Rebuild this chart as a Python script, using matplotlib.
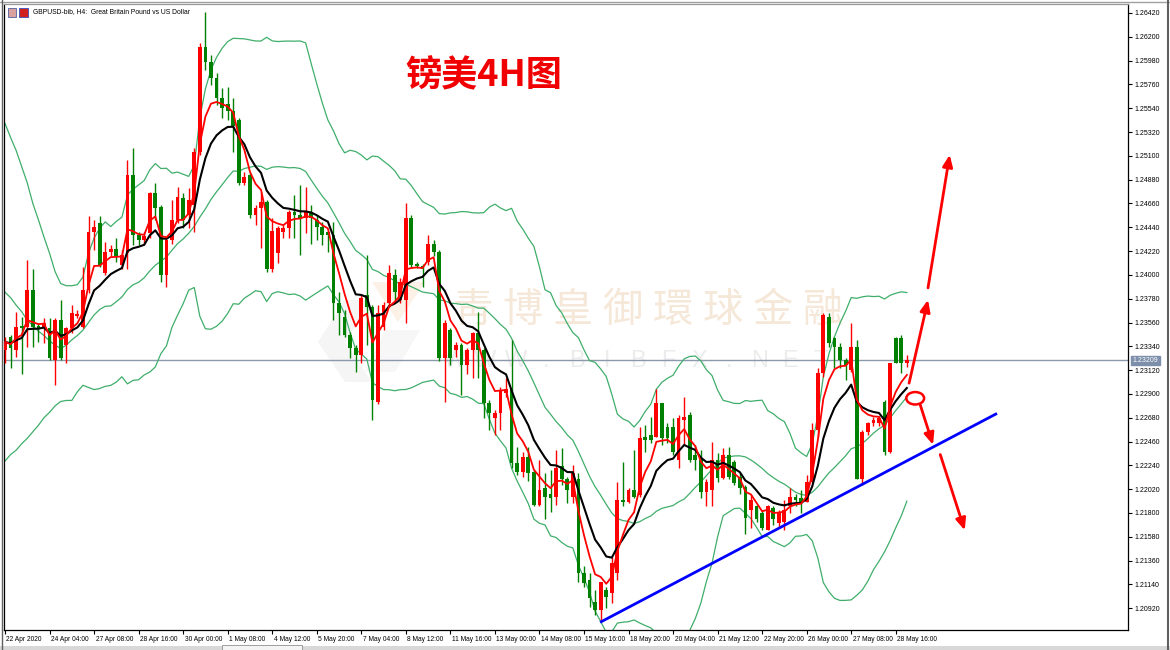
import numpy as np
import pandas as pd
import matplotlib
matplotlib.use("Agg")
import matplotlib.pyplot as plt
from matplotlib.patches import Ellipse, Rectangle, Polygon
from matplotlib.transforms import offset_copy

# ---------------- data (GBPUSD H4) ----------------
opens = [1.2331,1.2343,1.2331,1.2353,1.2352,1.2386,1.2353,1.2351,1.2351,1.2321,
         1.2358,1.2335,1.2351,1.2362,1.2352,1.2386,1.2440,1.2448,1.2402,1.2421,
         1.2424,1.2409,1.2420,1.2492,1.2437,1.2432,1.2439,1.2476,1.2463,1.2400,
         1.2432,1.2451,1.2471,1.2455,1.2465,1.2514,1.2611,1.2597,1.2582,1.2563,
         1.2558,1.2551,1.2543,1.2485,1.2492,1.2455,1.2462,1.2467,1.2405,1.2420,
         1.2440,1.2443,1.2458,1.2455,1.2453,1.2457,1.2451,1.2444,1.2440,1.2437,
         1.2374,1.2361,1.2344,1.2332,1.2326,1.2381,1.2370,1.2283,1.2352,1.2374,
         1.2400,1.2377,1.2377,1.2453,1.2410,1.2408,1.2412,1.2429,1.2421,1.2323,
         1.2349,1.2331,1.2335,1.2317,1.2331,1.2346,1.2331,1.2282,1.2268,1.2272,
         1.2291,1.2295,1.2226,1.2218,1.2232,1.2218,1.2187,1.2203,1.2198,1.2195,
         1.2223,1.2211,1.2195,1.2211,1.2125,1.2118,1.2098,1.2090,1.2109,1.2106,
         1.2125,1.2192,1.2190,1.2201,1.2197,1.2250,1.2252,1.2250,1.2282,1.2259,
         1.2259,1.2229,1.2266,1.2271,1.2234,1.2229,1.2199,1.2201,1.2229,1.2212,
         1.2234,1.2227,1.2213,1.2204,1.2183,1.2186,1.2180,1.2164,1.2185,1.2171,
         1.2172,1.2186,1.2195,1.2194,1.2190,1.2209,1.2257,1.2309,1.2361,1.2342,
         1.2333,1.2321,1.2312,1.2333,1.2211,1.2255,1.2263,1.2263,1.2283,1.2236,
         1.2342,1.2342,1.2319]
highs = [1.2343,1.2344,1.2366,1.2361,1.2414,1.2405,1.2356,1.2360,1.2360,1.2360,
         1.2377,1.2352,1.2372,1.2368,1.2407,1.2454,1.2451,1.2454,1.2430,1.2428,
         1.2434,1.2423,1.2506,1.2517,1.2440,1.2440,1.2477,1.2485,1.2465,1.2434,
         1.2469,1.2481,1.2476,1.2480,1.2517,1.2614,1.2643,1.2603,1.2587,1.2573,
         1.2574,1.2563,1.2545,1.2495,1.2494,1.2465,1.2477,1.2469,1.2453,1.2445,
         1.2446,1.2460,1.2474,1.2483,1.2481,1.2465,1.2455,1.2449,1.2441,1.2449,
         1.2384,1.2368,1.2347,1.2335,1.2381,1.2418,1.2372,1.2372,1.2375,1.2409,
         1.2405,1.2397,1.2466,1.2455,1.2412,1.2410,1.2437,1.2432,1.2423,1.2358,
         1.2351,1.2338,1.2337,1.2332,1.2347,1.2366,1.2332,1.2284,1.2275,1.2296,
         1.2305,1.2340,1.2241,1.2236,1.2241,1.2220,1.2229,1.2217,1.2220,1.2238,
         1.2240,1.2213,1.2224,1.2217,1.2131,1.2125,1.2109,1.2116,1.2112,1.2139,
         1.2209,1.2227,1.2203,1.2238,1.2259,1.2261,1.2269,1.2295,1.2282,1.2263,
         1.2268,1.2271,1.2287,1.2273,1.2243,1.2238,1.2211,1.2246,1.2235,1.2240,
         1.2241,1.2229,1.2217,1.2206,1.2197,1.2187,1.2183,1.2187,1.2186,1.2183,
         1.2192,1.2203,1.2198,1.2201,1.2215,1.2263,1.2314,1.2365,1.2365,1.2343,
         1.2337,1.2323,1.2356,1.2340,1.2257,1.2264,1.2269,1.2270,1.2284,1.2319,
         1.2343,1.2344,1.2326]
lows = [1.2319,1.2314,1.2324,1.2308,1.2333,1.2333,1.2338,1.2337,1.2321,1.2298,
        1.2321,1.2319,1.2346,1.2360,1.2351,1.2383,1.2423,1.2407,1.2400,1.2417,
        1.2412,1.2405,1.2405,1.2428,1.2428,1.2428,1.2434,1.2451,1.2393,1.2389,
        1.2429,1.2448,1.2443,1.2443,1.2440,1.2511,1.2589,1.2575,1.2557,1.2545,
        1.2543,1.2514,1.2483,1.2483,1.2453,1.2446,1.2425,1.2403,1.2403,1.2411,
        1.2434,1.2434,1.2434,1.2418,1.2439,1.2429,1.2432,1.2428,1.2421,1.2358,
        1.2344,1.2343,1.2323,1.2310,1.2319,1.2335,1.2266,1.2281,1.2349,1.2370,
        1.2377,1.2374,1.2356,1.2406,1.2406,1.2389,1.2409,1.2417,1.2320,1.2283,
        1.2317,1.2324,1.2289,1.2308,1.2305,1.2305,1.2268,1.2257,1.2252,1.2257,
        1.2287,1.2222,1.2215,1.2213,1.2210,1.2186,1.2186,1.2174,1.2181,1.2187,
        1.2206,1.2189,1.2189,1.2116,1.2112,1.2093,1.2086,1.2079,1.2092,1.2097,
        1.2118,1.2186,1.2189,1.2194,1.2195,1.2236,1.2245,1.2250,1.2243,1.2245,
        1.2234,1.2222,1.2243,1.2227,1.2220,1.2194,1.2186,1.2186,1.2209,1.2211,
        1.2211,1.2206,1.2198,1.2161,1.2166,1.2172,1.2164,1.2164,1.2169,1.2166,
        1.2164,1.2180,1.2186,1.2180,1.2190,1.2208,1.2250,1.2306,1.2333,1.2314,
        1.2314,1.2303,1.2310,1.2211,1.2206,1.2252,1.2260,1.2260,1.2234,1.2235,
        1.2319,1.2309,1.2315]
closes = [1.2338,1.2332,1.2352,1.2351,1.2386,1.2352,1.2351,1.2356,1.2323,1.2358,
          1.2323,1.2351,1.2365,1.2364,1.2386,1.2440,1.2444,1.2409,1.2421,1.2424,
          1.2417,1.2418,1.2492,1.2437,1.2432,1.2436,1.2476,1.2462,1.2400,1.2432,
          1.2451,1.2472,1.2451,1.2469,1.2514,1.2611,1.2597,1.2582,1.2563,1.2554,
          1.2551,1.2538,1.2485,1.2490,1.2455,1.2462,1.2467,1.2405,1.2441,1.2443,
          1.2443,1.2458,1.2455,1.2453,1.2458,1.2453,1.2444,1.2437,1.2437,1.2374,
          1.2365,1.2344,1.2332,1.2326,1.2379,1.2370,1.2284,1.2365,1.2372,1.2402,
          1.2384,1.2393,1.2453,1.2409,1.2408,1.2405,1.2429,1.2421,1.2323,1.2356,
          1.2323,1.2335,1.2317,1.2331,1.2346,1.2331,1.2282,1.2272,1.2272,1.2294,
          1.2295,1.2226,1.2218,1.2232,1.2217,1.2187,1.2201,1.2195,1.2194,1.2222,
          1.2211,1.2201,1.2217,1.2125,1.2115,1.2101,1.2090,1.2116,1.2102,1.2134,
          1.2192,1.2190,1.2201,1.2195,1.2249,1.2247,1.2247,1.2282,1.2249,1.2249,
          1.2236,1.2268,1.2269,1.2229,1.2229,1.2199,1.2209,1.2229,1.2212,1.2234,
          1.2213,1.2208,1.2203,1.2175,1.2192,1.2174,1.2166,1.2186,1.2174,1.2181,
          1.2183,1.2195,1.2192,1.2190,1.2209,1.2257,1.2309,1.2363,1.2337,1.2333,
          1.2321,1.2317,1.2333,1.2211,1.2255,1.2263,1.2266,1.2268,1.2236,1.2319,
          1.2319,1.2319,1.23209]

# Bollinger band values visible before 20 bars of history exist
bb_upper_head = [1.2540,1.2527,1.2515,1.2500,1.2485,1.2466,1.2451,1.2435,1.2420,1.2403,
                 1.2392,1.2390,1.2390,1.2391,1.2398,1.2420,1.2434,1.2443,1.2449]
bb_mid_head = [1.2384,1.2379,1.2372,1.2366,1.2358,1.2353,1.2348,1.2344,1.2339,1.2335,
               1.2332,1.2335,1.2340,1.2344,1.2349,1.2356,1.2363,1.2368,1.2371]
bb_lower_head = [1.2228,1.2234,1.2238,1.2244,1.2249,1.2255,1.2261,1.2268,1.2273,1.2279,
                 1.2283,1.2284,1.2284,1.2292,1.2298,1.2296,1.2294,1.2295,1.2297]

x_labels = ["22 Apr 2020", "24 Apr 04:00", "27 Apr 08:00", "28 Apr 16:00", "30 Apr 00:00",
            "1 May 08:00", "4 May 12:00", "5 May 20:00", "7 May 04:00", "8 May 12:00",
            "11 May 16:00", "13 May 00:00", "14 May 08:00", "15 May 16:00", "18 May 20:00",
            "20 May 04:00", "21 May 12:00", "22 May 20:00", "26 May 00:00", "27 May 08:00",
            "28 May 16:00"]
label_step = 8
price_ticks = [1.20920, 1.21140, 1.21360, 1.21580, 1.21800, 1.22020, 1.22240, 1.22460,
               1.22680, 1.22900, 1.23120, 1.23340, 1.23560, 1.23780, 1.24000, 1.24220,
               1.24440, 1.24660, 1.24880, 1.25100, 1.25320, 1.25540, 1.25760, 1.25980,
               1.26200, 1.26420]
last_price = 1.23209

watermark_name = "\u9751\u535a\u7687\u5fa1\u74b0\u7403\u91d1\u878d"
watermark_web = "WWW.BIBFX.NET"

# annotation geometry (bar index, price)
trend_start = (106.9, 1.2079)
trend_end = (178.2, 1.2272)
arrows = [((165.8, 1.2388), (169.7, 1.2511)),
          ((162.4, 1.2300), (165.8, 1.2377)),
          ((164.4, 1.2280), (166.7, 1.2243)),
          ((168.0, 1.2234), (172.4, 1.2164))]
ellipse_center = (163.5, 1.2286)

# ---------------- figure ----------------
plt.rcParams['font.family'] = ['Liberation Sans', 'DejaVu Sans']
W, H = 1170, 650
fig = plt.figure(figsize=(W / 100, H / 100), dpi=100)
fig.patch.set_facecolor("white")

ax_l, ax_r, ax_t, ax_b = 4, 1128, 4, 630
ax = fig.add_axes([ax_l / W, (H - ax_b) / H, (ax_r - ax_l) / W, (ax_b - ax_t) / H])
n = len(closes)
x = np.arange(n)
px_per_bar = 5.567
xmin = -1.0 / px_per_bar
ax.set_xlim(xmin, xmin + (ax_r - ax_l) / px_per_bar)
ppy = 0.0000924
ax.set_ylim(1.2654 - ppy * ax_b, 1.2654 - ppy * ax_t)

# watermark (faint logo + company name + web address), behind everything
def fig_px(pts):
    return [(px / W, 1 - py / H) for px, py in pts]
ax.add_patch(Polygon(fig_px([(372, 282), (425, 282), (398, 322)]), closed=True,
                     transform=fig.transFigure, fc="#fbf1e6", ec="none", zorder=0))
ax.add_patch(Polygon(fig_px([(345, 300), (372, 300), (345, 342), (372, 382), (345, 382),
                             (318, 342)]), closed=True,
                     transform=fig.transFigure, fc="#f5f5f5", ec="none", zorder=0))
ax.add_patch(Polygon(fig_px([(385, 330), (420, 330), (395, 372), (365, 372)]), closed=True,
                     transform=fig.transFigure, fc="#f7f7f7", ec="none", zorder=0))
for j, ch in enumerate(watermark_name):
    ax.text((473 + 50 * j) / W, 1 - 310 / H, ch, transform=fig.transFigure, fontsize=29,
            color="#f6e8d8", family=["Noto Sans CJK TC", "DejaVu Sans"],
            ha="center", va="center", zorder=0.5)
for j, ch in enumerate(watermark_web):
    ax.text((455 + 30.5 * j) / W, 1 - 361 / H, ch, transform=fig.transFigure, fontsize=17,
            color="#ececec", ha="center", va="center", zorder=0.5)

# Bollinger bands and moving averages from closes
c = pd.Series(closes)
mid = c.rolling(20).mean()
sd = c.rolling(20).std(ddof=0)
upper = (mid + 2 * sd).values
lower = (mid - 2 * sd).values
mid = mid.values
k = len(bb_mid_head)
upper[:k] = bb_upper_head
mid[:k] = bb_mid_head
lower[:k] = bb_lower_head
ema5 = c.ewm(span=5, adjust=False).mean().values
ema10 = c.ewm(span=10, adjust=False).mean().values

bb_col = "#3fae6a"
for band in (upper, mid, lower):
    ax.plot(x, band, color=bb_col, lw=0.9, zorder=2)

# current price line
ax.axhline(last_price, color="#8b9aab", lw=1.0, zorder=1)

# candles
o = np.array(opens); h = np.array(highs); l = np.array(lows); cl = np.array(closes)
up = cl >= o
cols = np.where(up, "#ff0000", "#008000")
ax.vlines(x, l, h, colors=cols, lw=1.0, zorder=3)
body_lo = np.minimum(o, cl)
body_h = np.maximum(np.abs(cl - o), 0.00005)
ax.bar(x, body_h, bottom=body_lo, width=0.68, color=cols, linewidth=0, zorder=4)

ax.plot(x, ema10, color="black", lw=1.5, zorder=5)
ax.plot(x, ema5, color="#ff0000", lw=1.3, zorder=6)

# trend line
ax.plot([trend_start[0], trend_end[0]], [trend_start[1], trend_end[1]],
        color="#0000ff", lw=2.0, zorder=7, solid_capstyle="butt")

# arrows and ellipse
for (x0, y0), (x1, y1) in arrows:
    ax.annotate("", xy=(x1, y1), xytext=(x0, y0),
                arrowprops=dict(arrowstyle="-|>,head_length=0.7,head_width=0.3",
                                color="#ff0000", lw=2.0, shrinkA=0, shrinkB=0),
                zorder=8)
ax.add_patch(Ellipse(ellipse_center, 3.2, 0.00115, fill=False, ec="#ff0000", lw=1.8, zorder=8))

# title
ax.text(401 / (ax_r - ax_l), 1 - (76 - ax_t) / (ax_b - ax_t), "\u9551\u7f8e4H\u56fe",
        transform=ax.transAxes, fontsize=26, fontweight="bold", color="#f00000",
        family=["Noto Sans CJK SC", "DejaVu Sans"], ha="left", va="center", zorder=9)

# header
fig.text(33 / W, 1 - 12 / H, "GBPUSD-bib, H4:  Great Britain Pound vs US Dollar",
         fontsize=4.9, color="black", ha="left", va="center")
fig.patches.append(Rectangle((8 / W, 1 - 17 / H), 8 / W, 9 / H, transform=fig.transFigure,
                             fc="#d9a0a0", ec="#5060a0", lw=0.6))
fig.patches.append(Rectangle((19 / W, 1 - 17 / H), 9 / W, 9 / H, transform=fig.transFigure,
                             fc="#d02020", ec="#3050c0", lw=0.6))

# axes styling
for s in ax.spines.values():
    s.set_color("black")
    s.set_linewidth(0.9)
ax.spines["top"].set_color("#9a9a9a")
ax.yaxis.tick_right()
ax.set_yticks(price_ticks)
ax.set_yticklabels([f"{v:.5f}" for v in price_ticks])
ax.tick_params(axis="y", direction="out", length=3, width=0.8, pad=1.5, labelsize=5,
               colors="black")
tick_pos = [i * label_step for i in range(len(x_labels))]
ax.set_xticks(tick_pos)
ax.set_xticklabels(x_labels)
ax.tick_params(axis="x", direction="out", length=3, width=0.8, pad=1.5, labelsize=4.8)
for lab in ax.get_xticklabels():
    lab.set_ha("left")
    lab.set_transform(offset_copy(lab.get_transform(), fig=fig, x=1.5, y=0, units="dots"))

# current price box on the price scale
ax.annotate(f"{last_price:.5f}", xy=(1.0, last_price), xycoords=("axes fraction", "data"),
            xytext=(3.5, 0), textcoords="offset points", fontsize=5, color="white",
            ha="left", va="center",
            bbox=dict(boxstyle="square,pad=0.2", fc="#7d8fab", ec="#7d8fab"),
            annotation_clip=False, zorder=10)

# window frame bits
fig.add_artist(plt.Line2D([0, 1], [1 - 1.5 / H, 1 - 1.5 / H], transform=fig.transFigure,
                          color="#a0a0a0", lw=1))
fig.add_artist(plt.Line2D([1 - 2 / W, 1 - 2 / W], [0, 1], transform=fig.transFigure,
                          color="#606060", lw=1.5))
fig.add_artist(plt.Line2D([1.5 / W, 1.5 / W], [0, 1], transform=fig.transFigure,
                          color="#606060", lw=1.0))
fig.patches.append(Rectangle((0, 0), 1, 4 / H, transform=fig.transFigure,
                             fc="#d8d8d8", ec="none"))
fig.patches.append(Rectangle((222 / W, 0), 80 / W, 5 / H, transform=fig.transFigure,
                             fc="#f4f4f4", ec="#909090", lw=0.6))

fig.savefig("out.png", dpi=100, facecolor="white")
